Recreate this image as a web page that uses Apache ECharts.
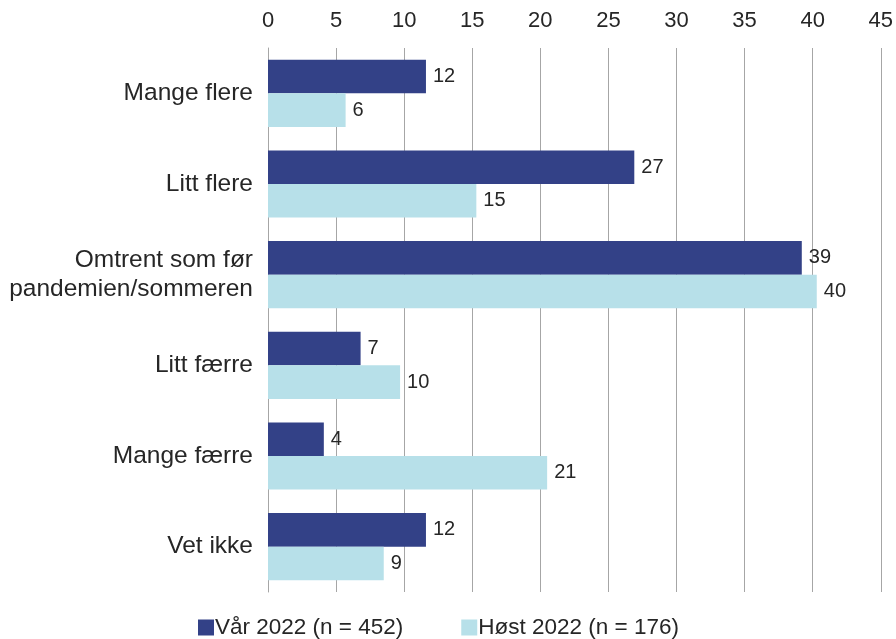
<!DOCTYPE html>
<html>
<head>
<meta charset="utf-8">
<script src="https://cdn.jsdelivr.net/npm/echarts@6/dist/echarts.min.js"></script>
<style>
  html, body { margin: 0; padding: 0; background: #fff; }
  #chart { width: 896px; height: 639px; }
</style>
</head>
<body>
<div id="chart"></div>
<script>
const categories = ['Mange flere', 'Litt flere', 'Omtrent som før\npandemien/sommeren', 'Litt færre', 'Mange færre', 'Vet ikke']
const seriesNames = ['Vår 2022 (n = 452)', 'Høst 2022 (n = 176)']
const var2022 = [11.6, 26.9, 39.2, 6.8, 4.1, 11.6]
const host2022 = [5.7, 15.3, 40.3, 9.7, 20.5, 8.5]
const xTicks = { min: 0, max: 45, step: 5 }

const textColor = '#262626'
const font = 'Liberation Sans, Arial, sans-serif'

let chart = echarts.init(document.getElementById('chart'))

let labelOpt = {
  show: true,
  position: 'right',
  distance: 7,
  color: textColor,
  fontSize: 20,
  fontFamily: font,
  formatter: p => Math.round(p.value)
}

chart.setOption({
  animation: false,
  color: ['#334187', '#B7E0E9'],
  grid: {
    left: 268,
    right: 13,
    top: 48,
    bottom: 47,
    containLabel: false
  },
  legend: {
    data: seriesNames,
    left: 193,
    top: 611,
    itemWidth: 16,
    itemHeight: 16,
    itemGap: 58,
    icon: 'rect',
    textStyle: {
      color: textColor,
      fontSize: 22.5,
      fontFamily: font,
      padding: [0, 0, 0, -4]
    }
  },
  xAxis: {
    type: 'value',
    position: 'top',
    min: xTicks.min,
    max: xTicks.max,
    interval: xTicks.step,
    axisLine: { show: false },
    axisTick: { show: false },
    axisLabel: {
      color: textColor,
      fontSize: 22,
      fontFamily: font,
      margin: 16
    },
    splitLine: {
      lineStyle: { color: '#A6A6A6', width: 1 }
    }
  },
  yAxis: {
    type: 'category',
    inverse: true,
    data: categories,
    axisLine: { show: true, lineStyle: { color: '#A6A6A6', width: 1 } },
    axisTick: { show: false },
    axisLabel: {
      color: textColor,
      fontSize: 24.5,
      fontFamily: font,
      margin: 15,
      lineHeight: 29
    }
  },
  series: [
    {
      name: seriesNames[0],
      type: 'bar',
      data: var2022,
      barGap: '0%',
      barCategoryGap: '26%',
      label: labelOpt
    },
    {
      name: seriesNames[1],
      type: 'bar',
      data: host2022,
      barGap: '0%',
      barCategoryGap: '26%',
      label: labelOpt
    }
  ]
})
</script>
</body>
</html>
